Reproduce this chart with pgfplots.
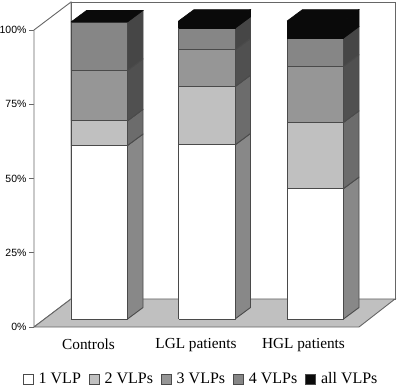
\documentclass[border=0pt]{standalone}
\usepackage{pgfplots}
\pgfplotsset{compat=1.18}
\usepackage{fontspec}
\setmainfont{Liberation Serif}
\newfontfamily\tickfont{Liberation Sans}
\definecolor{linec}{HTML}{4A4A4A}
\definecolor{wallc}{HTML}{666666}
\definecolor{floorc}{HTML}{C0C0C0}
\definecolor{fa}{HTML}{FFFFFF}\definecolor{sa}{HTML}{888888}
\definecolor{fb}{HTML}{C0C0C0}\definecolor{sb}{HTML}{6C6C6C}
\definecolor{fc}{HTML}{969696}\definecolor{sc}{HTML}{505050}
\definecolor{fd}{HTML}{868686}\definecolor{sd}{HTML}{464646}
\definecolor{fe}{HTML}{0A0A0A}
% one segment of a 3D stacked bar: left x, lower %, upper %, front colour, side colour, line colour
\newcommand{\seg}[6]{%
  \pgfmathsetmacro{\xr}{#1+56.5}\pgfmathsetmacro{\xs}{#1+72}%
  \pgfmathsetmacro{\ya}{#2+3.87}\pgfmathsetmacro{\yb}{#3+3.87}%
  \addplot[forget plot,draw=#6,line width=0.9bp,fill=#5,line join=round] coordinates {(\xr,#2) (\xs,\ya) (\xs,\yb) (\xr,#3) (\xr,#2)};
  \addplot[forget plot,draw=#6,line width=0.9bp,fill=#4,line join=round] coordinates {(#1,#2) (\xr,#2) (\xr,#3) (#1,#3) (#1,#2)};
}
\newcommand{\topface}[2]{%
  \pgfmathsetmacro{\xr}{#1+56.5}\pgfmathsetmacro{\xs}{#1+72}\pgfmathsetmacro{\xb}{#1+15.5}%
  \pgfmathsetmacro{\yb}{#2+3.87}%
  \addplot[forget plot,draw=fe,line width=0.6bp,fill=fe] coordinates {(#1,#2) (\xb,\yb) (\xs,\yb) (\xr,#2) (#1,#2)};
}
\begin{document}
\begin{tikzpicture}[x=1bp,y=1bp]
\useasboundingbox (-34,-59) rectangle (363,327);
\begin{axis}[
  at={(0,0)},anchor=south west,
  scale only axis,width=363bp,height=327bp,
  xmin=34,xmax=397,ymin=0,ymax=110.101,
  clip=false,
  axis line style={draw=none},
  xtick={88.5,196,303.5},
  xticklabels={Controls,LGL patients,HGL patients},
  x tick label style={font=\fontsize{15.3bp}{18bp}\selectfont,yshift=-3bp},
  ytick={0,25,50,75,100},
  yticklabels={0\%,25\%,50\%,75\%,100\%},
  y tick label style={font=\tickfont\fontsize{10.5bp}{12bp}\selectfont,xshift=1bp},
  tick style={draw=wallc,line width=0.8bp},
  major tick length=5bp,
  xtick style={draw=none},
  ytick pos=left,tick align=outside,
  xtick pos=bottom,
  legend columns=-1,
  legend style={draw=none,fill=none,at={(axis cs:23,-17.5)},anchor=west,inner sep=0pt,outer sep=0pt,
    font=\fontsize{16bp}{18bp}\selectfont,
    /tikz/every odd column/.append style={column sep=3bp},
    /tikz/every even column/.append style={column sep=6bp}},
  legend image code/.code={\draw[#1] (0bp,-5bp) rectangle (10bp,5bp);},
]
% walls
\addplot[forget plot,draw=wallc,line width=0.9bp,fill=white] coordinates {(34,0) (71,9.43) (71,109.43) (34,100) (34,0)};
\addplot[forget plot,draw=wallc,line width=0.9bp,fill=white] coordinates {(71,9.43) (395,9.43) (395,109.43) (71,109.43) (71,9.43)};
% floor
\addplot[forget plot,draw=wallc,line width=0.9bp,fill=floorc] coordinates {(34,0) (71,9.43) (395,9.43) (359,0) (34,0)};
% Controls
\seg{71}{2.69}{61.1}{fa}{sa}{linec}
\seg{71}{61.1}{69.4}{fb}{sb}{linec}
\seg{71}{69.4}{86.4}{fc}{sc}{linec}
\seg{71}{86.4}{102.7}{fd}{sd}{linec}
\topface{71}{102.7}
% LGL patients
\seg{178.5}{2.69}{61.3}{fa}{sa}{linec}
\seg{178.5}{61.3}{80.9}{fb}{sb}{linec}
\seg{178.5}{80.9}{93.3}{fc}{sc}{linec}
\seg{178.5}{93.3}{100.6}{fd}{sd}{linec}
\seg{178.5}{100.6}{103.0}{fe}{fe}{fe}
\topface{178.5}{103.0}
% HGL patients
\seg{287}{2.69}{46.6}{fa}{sa}{linec}
\seg{287}{46.6}{68.9}{fb}{sb}{linec}
\seg{287}{68.9}{87.8}{fc}{sc}{linec}
\seg{287}{87.8}{97.3}{fd}{sd}{linec}
\seg{287}{97.3}{103.0}{fe}{fe}{fe}
\topface{287}{103.0}
% legend
\addlegendimage{draw=linec,line width=0.7bp,fill=fa}
\addlegendentry{1 VLP}
\addlegendimage{draw=linec,line width=0.7bp,fill=fb}
\addlegendentry{2 VLPs}
\addlegendimage{draw=linec,line width=0.7bp,fill=fc}
\addlegendentry{3 VLPs}
\addlegendimage{draw=linec,line width=0.7bp,fill=fd}
\addlegendentry{4 VLPs}
\addlegendimage{draw=linec,line width=0.7bp,fill=fe}
\addlegendentry{all VLPs}
\end{axis}
\end{tikzpicture}
\end{document}
